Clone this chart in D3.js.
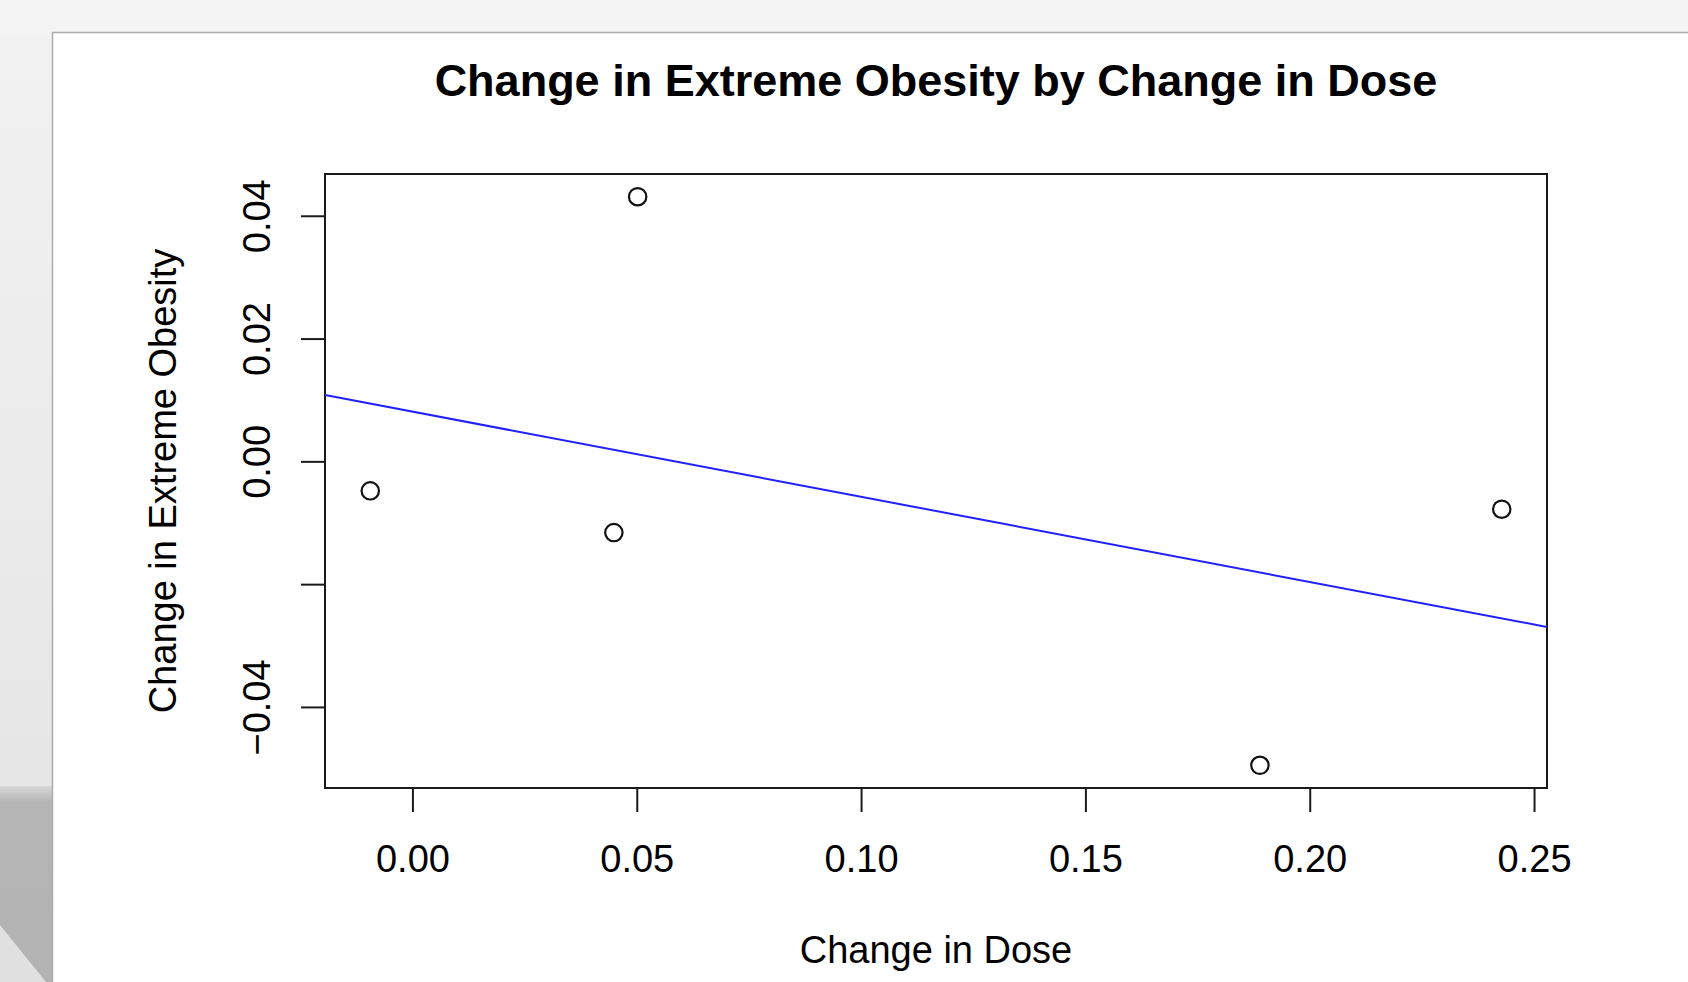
<!DOCTYPE html>
<html>
<head>
<meta charset="utf-8">
<script src="https://cdn.jsdelivr.net/npm/d3@7"></script>
<style>
  body { margin: 0; background: #f4f4f4; }
  svg { display: block; }
  text { font-family: Helvetica, "Liberation Sans", Arial, sans-serif; fill: #000; }
</style>
</head>
<body>
<div id="chart"></div>
<script>
// data
var doseChange = [-0.0094, 0.0502, 0.0449, 0.1889, 0.2428]
var obesityChange = [-0.0048, 0.0431, -0.0116, -0.0495, -0.0078]
var fitCoef = [0.0081, -0.1387]   // intercept, slope of the blue line
var xTicks = [0.00, 0.05, 0.10, 0.15, 0.20, 0.25]
var xTickLabels = ["0.00", "0.05", "0.10", "0.15", "0.20", "0.25"]
var yTicks = [-0.04, -0.02, 0.00, 0.02, 0.04]
var yTickLabels = ["\u22120.04", "", "0.00", "0.02", "0.04"]   // R dropped the -0.02 label
var title = "Change in Extreme Obesity by Change in Dose"
var xTitle = "Change in Dose"
var yTitle = "Change in Extreme Obesity"

var W = 1688, H = 982
var box = {left: 325, right: 1547, top: 174, bottom: 788}

var svg = d3.select("#chart")
    .append("svg")
    .attr("width", W)
    .attr("height", H)

// window background bits around the white card
var defs = svg.append("defs")
var g1 = defs.append("linearGradient").attr("id", "strip").attr("x1", 0).attr("x2", 0).attr("y1", 0).attr("y2", 1)
g1.append("stop").attr("offset", "0%").attr("stop-color", "#f2f2f2")
g1.append("stop").attr("offset", "100%").attr("stop-color", "#e6e6e6")
var g2 = defs.append("linearGradient").attr("id", "shade").attr("x1", 0).attr("x2", 0).attr("y1", 0).attr("y2", 1)
g2.append("stop").attr("offset", "0%").attr("stop-color", "#d8d8d8")
g2.append("stop").attr("offset", "8%").attr("stop-color", "#b5b5b5")
g2.append("stop").attr("offset", "100%").attr("stop-color", "#b3b3b3")

svg.append("rect").attr("x", 0).attr("y", 0).attr("width", W).attr("height", H).style("fill", "#f4f4f4")
svg.append("rect").attr("x", 0).attr("y", 33).attr("width", 53).attr("height", 757).style("fill", "url(#strip)")
svg.append("rect").attr("x", 0).attr("y", 786).attr("width", 53).attr("height", 196).style("fill", "url(#shade)")
svg.append("path").attr("d", "M0,925 L46,982 L0,982 Z").style("fill", "#e0e0e0")

// the card
svg.append("rect")
    .attr("x", 52.5).attr("y", 32.5)
    .attr("width", W).attr("height", H)
    .style("fill", "white")
    .style("stroke", "#adadad")
    .style("stroke-width", 1.5)

// scales, padded 4% like R does
function padded(v) {
    var ext = d3.extent(v), r = ext[1] - ext[0]
    return [ext[0] - 0.04 * r, ext[1] + 0.04 * r]
}
var x = d3.scaleLinear().domain(padded(doseChange)).range([box.left, box.right])
var y = d3.scaleLinear().domain(padded(obesityChange)).range([box.bottom, box.top])

// plot frame
svg.append("rect")
    .attr("x", box.left).attr("y", box.top)
    .attr("width", box.right - box.left).attr("height", box.bottom - box.top)
    .style("fill", "none")
    .style("stroke", "#1a1a1a")
    .style("stroke-width", 2)

// x axis
var xAxis = d3.axisBottom(x)
    .tickValues(xTicks)
    .tickFormat(function(d, i) { return xTickLabels[i] })
    .tickSize(24)
    .tickPadding(0)
var gx = svg.append("g")
    .attr("transform", "translate(0," + box.bottom + ")")
    .call(xAxis)
gx.select(".domain").remove()
gx.selectAll(".tick line").style("stroke", "#1a1a1a").style("stroke-width", 2)
gx.selectAll(".tick text")
    .attr("y", 84).attr("dy", null)
    .style("font-size", "38px")
    .style("fill", "#000")

// y axis
var yAxis = d3.axisLeft(y)
    .tickValues(yTicks)
    .tickFormat(function(d, i) { return yTickLabels[i] })
    .tickSize(24)
    .tickPadding(0)
var gy = svg.append("g")
    .attr("transform", "translate(" + box.left + ",0)")
    .call(yAxis)
gy.select(".domain").remove()
gy.selectAll(".tick line").style("stroke", "#1a1a1a").style("stroke-width", 2)
gy.selectAll(".tick text")
    .attr("x", null).attr("dy", null)
    .attr("transform", "translate(-55.5,0) rotate(-90)")
    .attr("text-anchor", "middle")
    .style("font-size", "38px")
    .style("fill", "#000")

// fitted line, clipped to the frame
defs.append("clipPath").attr("id", "clip")
    .append("rect")
    .attr("x", box.left).attr("y", box.top)
    .attr("width", box.right - box.left).attr("height", box.bottom - box.top)
var xd = x.domain()
svg.append("line")
    .attr("clip-path", "url(#clip)")
    .attr("x1", x(xd[0])).attr("y1", y(fitCoef[0] + fitCoef[1] * xd[0]))
    .attr("x2", x(xd[1])).attr("y2", y(fitCoef[0] + fitCoef[1] * xd[1]))
    .style("stroke", "#1f1fff")
    .style("stroke-width", 2)

// points
svg.selectAll("circle.pt")
    .data(doseChange)
    .enter()
    .append("circle")
        .attr("class", "pt")
        .attr("cx", function(d) { return x(d) })
        .attr("cy", function(d, i) { return y(obesityChange[i]) })
        .attr("r", 8.7)
        .style("fill", "none")
        .style("stroke", "#111")
        .style("stroke-width", 2.2)

// titles
svg.append("text")
    .attr("x", (box.left + box.right) / 2)
    .attr("y", 96)
    .attr("text-anchor", "middle")
    .style("font-size", "45px")
    .style("font-weight", "bold")
    .text(title)

svg.append("text")
    .attr("x", (box.left + box.right) / 2)
    .attr("y", 963)
    .attr("text-anchor", "middle")
    .style("font-size", "38px")
    .text(xTitle)

svg.append("text")
    .attr("transform", "translate(176," + (box.top + box.bottom) / 2 + ") rotate(-90)")
    .attr("text-anchor", "middle")
    .style("font-size", "38px")
    .text(yTitle)
</script>
</body>
</html>
